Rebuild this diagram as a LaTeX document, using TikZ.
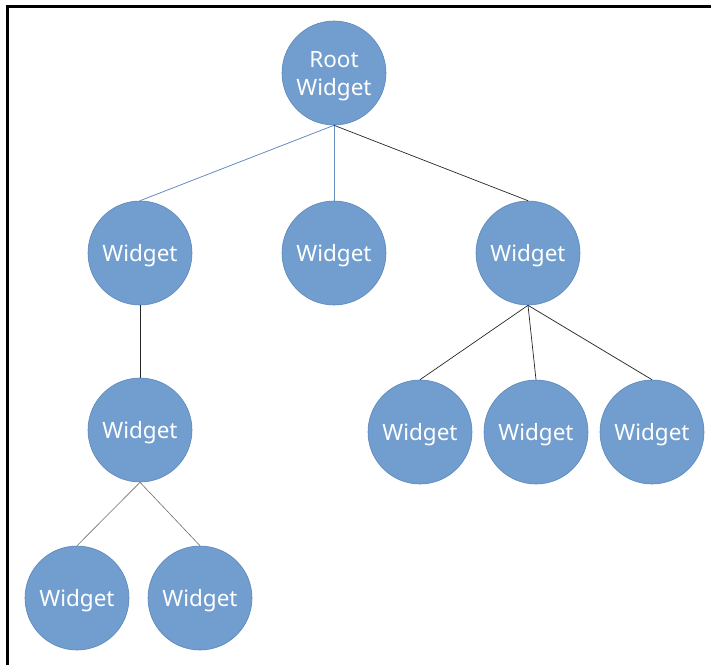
\documentclass[tikz,border=0pt]{standalone}
\usepackage{fontspec}
\setmainfont{Noto Sans}
\definecolor{wfill}{RGB}{113,158,207}
\definecolor{wdraw}{RGB}{90,134,185}
\definecolor{bedge}{RGB}{100,140,190}
\definecolor{gedge}{RGB}{110,110,110}
\begin{document}
\begin{tikzpicture}[x=1pt,y=-1pt,
  wnode/.style={circle,fill=wfill,draw=wdraw,line width=0.6pt,minimum size=104pt,inner sep=0pt,
    text=white,font=\fontsize{22.5}{28}\selectfont,align=center,text depth=0pt},
  bluelink/.style={draw=bedge,line width=0.8pt},
  darklink/.style={draw=black!85,line width=0.7pt},
  greylink/.style={draw=gedge,line width=0.6pt}]
\useasboundingbox (0,0) rectangle (711,665);
\draw[line width=3pt] (7,665) -- (7,6) -- (711,6);
\node[wnode] (root) at (334,73) {Root\\Widget};
\node[wnode] (a) at (140,253) {Widget};
\node[wnode] (b) at (334,253) {Widget};
\node[wnode] (c) at (528,253) {Widget};
\node[wnode] (a1) at (140,430) {Widget};
\node[wnode] (a11) at (77,598) {Widget};
\node[wnode] (a12) at (200,598) {Widget};
\node[wnode] (c1) at (420,432) {Widget};
\node[wnode] (c2) at (536,432) {Widget};
\node[wnode] (c3) at (652,432) {Widget};
\draw[bluelink] (root.south) -- (a.north);
\draw[bluelink] (root.south) -- (b.north);
\draw[darklink] (root.south) -- (c.north);
\draw[darklink] (a.south) -- (a1.north);
\draw[greylink] (a1.south) -- (a11.north);
\draw[greylink] (a1.south) -- (a12.north);
\draw[darklink] (c.south) -- (c1.north);
\draw[darklink] (c.south) -- (c2.north);
\draw[darklink] (c.south) -- (c3.north);
\end{tikzpicture}
\end{document}
